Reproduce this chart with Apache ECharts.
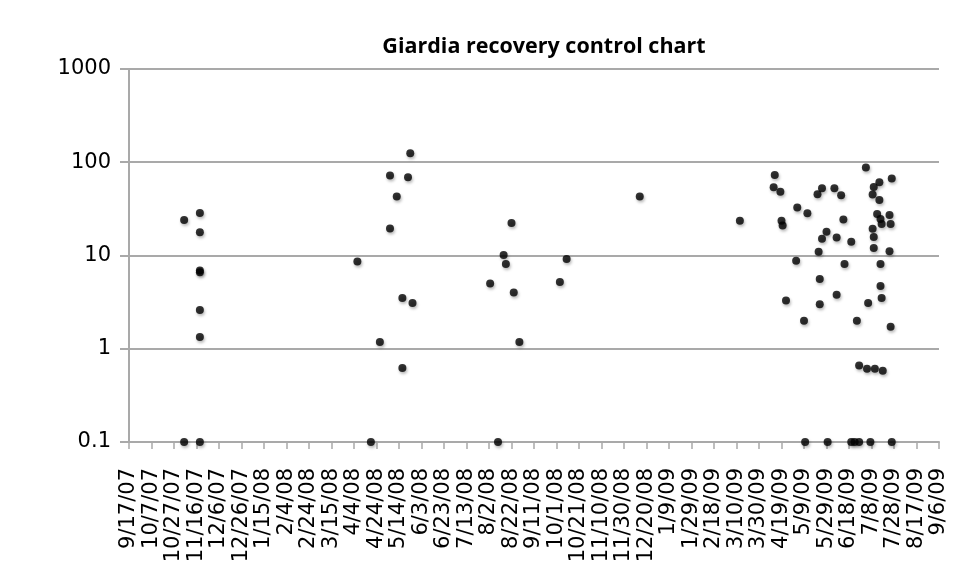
<!DOCTYPE html>
<html>
<head>
<meta charset="utf-8">
<title>Giardia recovery control chart</title>
<script src="https://cdn.jsdelivr.net/npm/echarts@6/dist/echarts.min.js"></script>
<style>
  html, body { margin: 0; padding: 0; background: #fff; }
  #chart { width: 956px; height: 578px; }
</style>
</head>
<body>
<div id="chart"></div>
<script>
// Sample dates and percent recovery for each Giardia control sample
const sampleDates = [
  '2007-11-05', '2007-11-05', '2007-11-19', '2007-11-19', '2007-11-19', '2007-11-19', '2007-11-19', '2007-11-19', '2007-11-19',
  '2008-04-07', '2008-04-19', '2008-04-27', '2008-05-06', '2008-05-06', '2008-05-12', '2008-05-17', '2008-05-17',
  '2008-05-22', '2008-05-24', '2008-05-26',
  '2008-08-03', '2008-08-10', '2008-08-15', '2008-08-17', '2008-08-22', '2008-08-24', '2008-08-29',
  '2008-10-04', '2008-10-10', '2008-12-14', '2009-03-13',
  '2009-04-12', '2009-04-13', '2009-04-18', '2009-04-19', '2009-04-20', '2009-04-23', '2009-05-02', '2009-05-03',
  '2009-05-09', '2009-05-10', '2009-05-12', '2009-05-21', '2009-05-22', '2009-05-23', '2009-05-23', '2009-05-25',
  '2009-05-25', '2009-05-29', '2009-05-30', '2009-06-05', '2009-06-07', '2009-06-07', '2009-06-11', '2009-06-13',
  '2009-06-14', '2009-06-20', '2009-06-20', '2009-06-23', '2009-06-25', '2009-06-27', '2009-06-27', '2009-07-03',
  '2009-07-04', '2009-07-05', '2009-07-07', '2009-07-09', '2009-07-09', '2009-07-10', '2009-07-10', '2009-07-10',
  '2009-07-11', '2009-07-13', '2009-07-15', '2009-07-15', '2009-07-16', '2009-07-16', '2009-07-16', '2009-07-17',
  '2009-07-17', '2009-07-18', '2009-07-24', '2009-07-24', '2009-07-25', '2009-07-25', '2009-07-26', '2009-07-26'
];
const recoveryPct = [
  24, 0.1, 28.6, 17.8, 6.9, 6.6, 2.6, 1.34, 0.1,
  8.6, 0.1, 1.18, 72, 19.5, 43, 3.5, 0.62,
  69, 125, 3.1,
  5.0, 0.1, 10.1, 8.1, 22.3, 4.0, 1.18,
  5.2, 9.2, 42.8, 23.6,
  53.8, 73, 48.4, 23.6, 21, 3.3, 8.8, 32.8,
  2.0, 0.1, 28.3, 45.3, 11.0, 5.6, 3.0, 52.5,
  15.1, 18, 0.1, 52.5, 15.6, 3.8, 44.2, 24.4,
  8.1, 14.0, 0.1, 0.1, 2.0, 0.66, 0.1, 88,
  0.61, 3.1, 0.1, 45, 19.4, 54.4, 15.8, 12.0,
  0.61, 27.9, 60.9, 39.4, 24.6, 8.1, 4.7, 21.8,
  3.5, 0.58, 27.2, 11.1, 1.72, 21.8, 66.8, 0.1
];

// Date axis: first tick, last tick and spacing (in days)
const axisStart = '2007-09-17';
const axisEnd = '2009-09-06';
const tickDays = 20;
// Log axis bounds
const yMin = 0.1;
const yMax = 1000;

const DAY = 86400000;
function toUtc(s) {
  const p = s.split('-').map(Number);
  return Date.UTC(p[0], p[1] - 1, p[2]);
}
const t0 = toUtc(axisStart);
function dayOffset(s) { return Math.round((toUtc(s) - t0) / DAY); }
function dayLabel(v) {
  const d = new Date(t0 + Math.round(v) * DAY);
  const yy = String(d.getUTCFullYear() % 100).padStart(2, '0');
  return (d.getUTCMonth() + 1) + '/' + d.getUTCDate() + '/' + yy;
}

const points = sampleDates.map((s, i) => [dayOffset(s), recoveryPct[i]]);

const gridGray = '#a9a9a9';
const labelFont = 'DejaVu Sans';

const chart = echarts.init(document.getElementById('chart'), null, { renderer: 'canvas' });
chart.setOption({
  backgroundColor: '#ffffff',
  animation: false,
  title: {
    text: 'Giardia recovery control chart',
    left: 539,
    top: 31,
    textAlign: 'center',
    textStyle: { fontFamily: 'Open Sans', fontWeight: 'bold', fontSize: 21.5, color: '#000' }
  },
  grid: { left: 129, right: 17, top: 69, bottom: 136, containLabel: false },
  xAxis: {
    type: 'value',
    min: 0,
    max: dayOffset(axisEnd),
    interval: tickDays,
    axisLine: { show: true, lineStyle: { color: gridGray, width: 2 } },
    axisTick: { show: true, inside: false, length: 7, lineStyle: { color: gridGray, width: 1.5 } },
    splitLine: { show: false },
    axisLabel: {
      rotate: 90,
      margin: 26,
      color: '#000',
      fontFamily: labelFont,
      fontSize: 21,
      showMinLabel: true,
      showMaxLabel: true,
      interval: 0,
      formatter: dayLabel
    }
  },
  yAxis: {
    type: 'log',
    logBase: 10,
    min: yMin,
    max: yMax,
    axisLine: { show: true, lineStyle: { color: gridGray, width: 2 } },
    axisTick: { show: true, inside: false, length: 9, lineStyle: { color: gridGray, width: 2 } },
    splitLine: { show: true, lineStyle: { color: gridGray, width: 2 } },
    minorTick: { show: false },
    axisLabel: {
      margin: 18,
      color: '#000',
      fontFamily: labelFont,
      fontSize: 21,
      formatter: v => (v < 1 ? v.toFixed(1) : String(Math.round(v)))
    }
  },
  series: [{
    type: 'scatter',
    data: points,
    symbol: 'circle',
    symbolSize: 8,
    itemStyle: {
      color: '#000',
      shadowBlur: 3,
      shadowColor: 'rgba(0,0,0,0.35)',
      shadowOffsetX: 1,
      shadowOffsetY: 2
    },
    z: 5
  }]
});
</script>
</body>
</html>
